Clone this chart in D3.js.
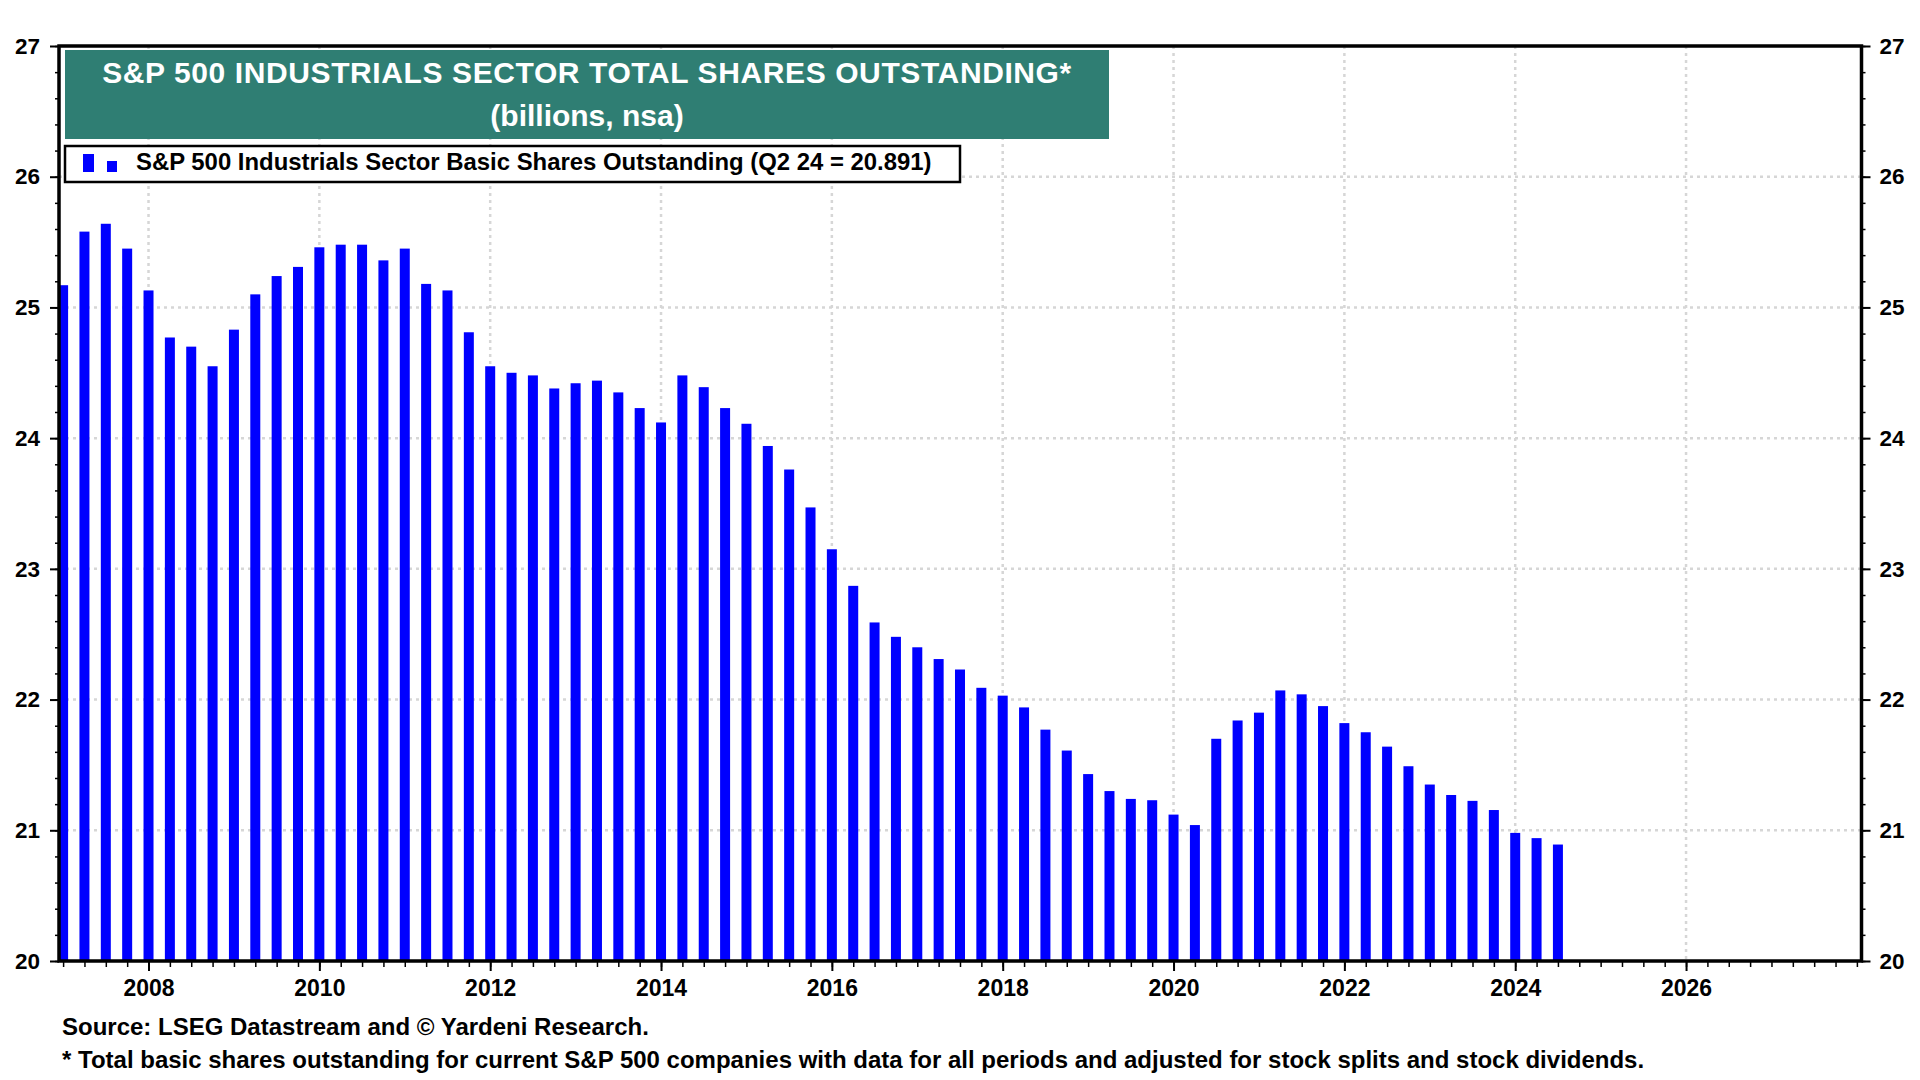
<!DOCTYPE html>
<html>
<head>
<meta charset="utf-8">
<script src="https://cdn.jsdelivr.net/npm/d3@7/dist/d3.min.js"></script>
<style>
  body { margin: 0; background: #fff; }
  text { font-family: "Liberation Sans", Arial, sans-serif; font-weight: bold; fill: #000; }
  .grid line { stroke: #d6d6d6; stroke-width: 2.5; stroke-dasharray: 3,4; }
  .axis line { stroke: #000; }
</style>
</head>
<body>
<div id="chart"></div>
<script>
// step 1: data (quarter ends, billions of shares)
// =================================
var quarters = [
  "Q4 06",
  "Q1 07", "Q2 07", "Q3 07", "Q4 07",
  "Q1 08", "Q2 08", "Q3 08", "Q4 08",
  "Q1 09", "Q2 09", "Q3 09", "Q4 09",
  "Q1 10", "Q2 10", "Q3 10", "Q4 10",
  "Q1 11", "Q2 11", "Q3 11", "Q4 11",
  "Q1 12", "Q2 12", "Q3 12", "Q4 12",
  "Q1 13", "Q2 13", "Q3 13", "Q4 13",
  "Q1 14", "Q2 14", "Q3 14", "Q4 14",
  "Q1 15", "Q2 15", "Q3 15", "Q4 15",
  "Q1 16", "Q2 16", "Q3 16", "Q4 16",
  "Q1 17", "Q2 17", "Q3 17", "Q4 17",
  "Q1 18", "Q2 18", "Q3 18", "Q4 18",
  "Q1 19", "Q2 19", "Q3 19", "Q4 19",
  "Q1 20", "Q2 20", "Q3 20", "Q4 20",
  "Q1 21", "Q2 21", "Q3 21", "Q4 21",
  "Q1 22", "Q2 22", "Q3 22", "Q4 22",
  "Q1 23", "Q2 23", "Q3 23", "Q4 23",
  "Q1 24", "Q2 24"
];

var shares = [
  25.17,
  25.58, 25.64, 25.45, 25.13,
  24.77, 24.70, 24.55, 24.83,
  25.10, 25.24, 25.31, 25.46,
  25.48, 25.48, 25.36, 25.45,
  25.18, 25.13, 24.81, 24.55,
  24.50, 24.48, 24.38, 24.42,
  24.44, 24.35, 24.23, 24.12,
  24.48, 24.39, 24.23, 24.11,
  23.94, 23.76, 23.47, 23.15,
  22.87, 22.59, 22.48, 22.40,
  22.31, 22.23, 22.09, 22.03,
  21.94, 21.77, 21.61, 21.43,
  21.30, 21.24, 21.23, 21.12,
  21.04, 21.70, 21.84, 21.90,
  22.07, 22.04, 21.95, 21.82,
  21.75, 21.64, 21.49, 21.35,
  21.27, 21.225, 21.155, 20.98,
  20.94, 20.891
];

var yTicks = [20, 21, 22, 23, 24, 25, 26, 27];
var xTickYears = [2008, 2010, 2012, 2014, 2016, 2018, 2020, 2022, 2024, 2026];

var titleLines = ["S&P 500 INDUSTRIALS SECTOR TOTAL SHARES OUTSTANDING*", "(billions, nsa)"];
var legendText = "S&P 500 Industrials Sector Basic Shares Outstanding (Q2 24 = 20.891)";
var sourceText = "Source: LSEG Datastream and \u00A9 Yardeni Research.";
var noteText = "* Total basic shares outstanding for current S&P 500 companies with data for all periods and adjusted for stock splits and stock dividends.";

// quarter label -> decimal year of the quarter end
function quarterEnd(q) {
  var n = +q.charAt(1);
  var yr = 2000 + (+q.slice(3));
  return yr + n / 4;
}

var data = quarters.map(function(q, i) {
  return { q: q, t: quarterEnd(q), v: shares[i] };
});

// step 2: svg + chart group
// =================================
var svgWidth = 1920;
var svgHeight = 1080;

var margin = { top: 46, right: 58.5, bottom: 119, left: 59 };
var width = svgWidth - margin.left - margin.right;
var height = svgHeight - margin.top - margin.bottom;

var svg = d3.select("#chart")
  .append("svg")
  .attr("width", svgWidth)
  .attr("height", svgHeight);

svg.append("rect")
  .attr("width", svgWidth)
  .attr("height", svgHeight)
  .attr("fill", "#fff");

var chartGroup = svg.append("g")
  .attr("transform", `translate(${margin.left}, ${margin.top})`);

// step 3: scales
// =================================
var xScale = d3.scaleLinear()
  .domain([2006.952, 2028.054])
  .range([0, width]);

var yScale = d3.scaleLinear()
  .domain([20, 27])
  .range([height, 0]);

// step 4: gridlines
// =================================
var grid = chartGroup.append("g").attr("class", "grid");

grid.selectAll(".hgrid")
  .data(yTicks.filter(function(d) { return d > 20 && d < 27; }))
  .enter()
  .append("line")
  .attr("x1", 0)
  .attr("x2", width)
  .attr("y1", d => yScale(d))
  .attr("y2", d => yScale(d));

grid.selectAll(".vgrid")
  .data(xTickYears)
  .enter()
  .append("line")
  .attr("x1", d => xScale(d))
  .attr("x2", d => xScale(d))
  .attr("y1", 0)
  .attr("y2", height);

// step 5: bars
// =================================
chartGroup.append("clipPath")
  .attr("id", "plotClip")
  .append("rect")
  .attr("width", width)
  .attr("height", height);

var barWidth = 10;

chartGroup.append("g")
  .attr("clip-path", "url(#plotClip)")
  .selectAll("rect")
  .data(data)
  .enter()
  .append("rect")
  .attr("x", d => xScale(d.t) - barWidth / 2)
  .attr("y", d => yScale(d.v))
  .attr("width", barWidth)
  .attr("height", d => height - yScale(d.v))
  .attr("fill", "#0000ff");

// step 6: axes
// =================================
var minorY = d3.range(20, 27.001, 0.2);
var minorX = d3.range(2007, 2028.01, 0.25);

// left
chartGroup.append("g")
  .attr("class", "axis")
  .call(d3.axisLeft(yScale).tickValues(minorY).tickSize(4).tickFormat(""))
  .call(g => g.select(".domain").remove())
  .selectAll("line").attr("stroke-width", 1.5);

chartGroup.append("g")
  .attr("class", "axis")
  .call(d3.axisLeft(yScale).tickValues(yTicks).tickSize(9).tickPadding(10).tickFormat(d3.format("d")))
  .call(g => g.select(".domain").remove())
  .call(g => g.selectAll("line").attr("stroke-width", 2))
  .selectAll("text")
  .style("font-size", "22.5px");

// right
chartGroup.append("g")
  .attr("class", "axis")
  .attr("transform", `translate(${width}, 0)`)
  .call(d3.axisRight(yScale).tickValues(minorY).tickSize(4).tickFormat(""))
  .call(g => g.select(".domain").remove())
  .selectAll("line").attr("stroke-width", 1.5);

chartGroup.append("g")
  .attr("class", "axis")
  .attr("transform", `translate(${width}, 0)`)
  .call(d3.axisRight(yScale).tickValues(yTicks).tickSize(9).tickPadding(9).tickFormat(d3.format("d")))
  .call(g => g.select(".domain").remove())
  .call(g => g.selectAll("line").attr("stroke-width", 2))
  .selectAll("text")
  .style("font-size", "22.5px");

// bottom
chartGroup.append("g")
  .attr("class", "axis")
  .attr("transform", `translate(0, ${height})`)
  .call(d3.axisBottom(xScale).tickValues(minorX).tickSize(6).tickFormat(""))
  .call(g => g.select(".domain").remove())
  .selectAll("line").attr("stroke-width", 1.5);

chartGroup.append("g")
  .attr("class", "axis")
  .attr("transform", `translate(0, ${height})`)
  .call(d3.axisBottom(xScale).tickValues(xTickYears).tickSize(10).tickPadding(9).tickFormat(d3.format("d")))
  .call(g => g.select(".domain").remove())
  .call(g => g.selectAll("line").attr("stroke-width", 2))
  .selectAll("text")
  .style("font-size", "23px");

// frame
chartGroup.append("rect")
  .attr("width", width)
  .attr("height", height)
  .attr("fill", "none")
  .attr("stroke", "#000")
  .attr("stroke-width", 3.5);

// step 7: title box + legend
// =================================
svg.append("rect")
  .attr("x", 65)
  .attr("y", 50)
  .attr("width", 1044)
  .attr("height", 89)
  .attr("fill", "#2f7e73");

svg.append("text")
  .attr("x", 587)
  .attr("y", 83)
  .attr("text-anchor", "middle")
  .style("font-size", "30px")
  .style("letter-spacing", "0.6px")
  .style("fill", "#fff")
  .text(titleLines[0]);

svg.append("text")
  .attr("x", 587)
  .attr("y", 126)
  .attr("text-anchor", "middle")
  .style("font-size", "30px")
  .style("fill", "#fff")
  .text(titleLines[1]);

svg.append("rect")
  .attr("x", 65)
  .attr("y", 146)
  .attr("width", 895)
  .attr("height", 36)
  .attr("fill", "#fff")
  .attr("stroke", "#000")
  .attr("stroke-width", 2.5);

svg.append("rect")
  .attr("x", 83)
  .attr("y", 154)
  .attr("width", 11)
  .attr("height", 18)
  .attr("fill", "#0000ff");

svg.append("rect")
  .attr("x", 107)
  .attr("y", 161)
  .attr("width", 10)
  .attr("height", 11)
  .attr("fill", "#0000ff");

svg.append("text")
  .attr("x", 136)
  .attr("y", 170)
  .style("font-size", "23.9px")
  .text(legendText);

// step 8: source + footnote
// =================================
svg.append("text")
  .attr("x", 62)
  .attr("y", 1035)
  .style("font-size", "24px")
  .text(sourceText);

svg.append("text")
  .attr("x", 62)
  .attr("y", 1068)
  .style("font-size", "24px")
  .text(noteText);
</script>
</body>
</html>
